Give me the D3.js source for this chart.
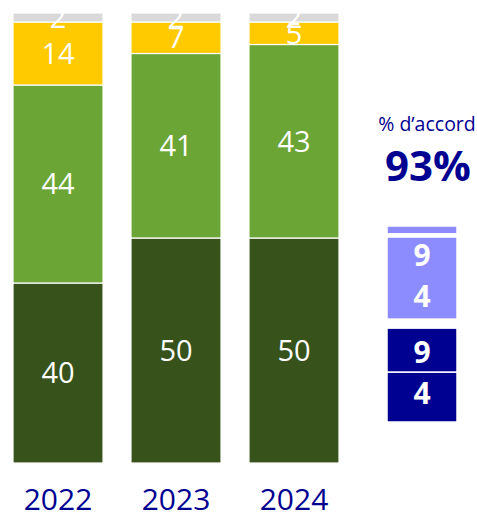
<!DOCTYPE html>
<html>
<head>
<meta charset="utf-8">
<script src="https://cdn.jsdelivr.net/npm/d3@7"></script>
<style>
  body { margin: 0; background: #fff; }
  text { font-family: "Open Sans", sans-serif; }
</style>
</head>
<body>
<div id="chart"></div>
<script>
// Data
const years = ["2022", "2023", "2024"];
const seriesNames = ["Tout à fait", "Plutôt", "Plutôt pas", "Pas du tout"];
const toutAFait = [40, 50, 50];
const plutot = [44, 41, 43];
const plutotPas = [14, 7, 5];
const pasDuTout = [2, 2, 2];
const seriesColors = ["#37521a", "#6aa535", "#ffca00", "#d9d9d9"];

// side summary block
const accordLabel = "% d\u2019accord";
const accordValue = "93%";
const sideValues = [25.5, 22.5, 4.5, 42, 1.5, 4];
const sideColors = ["#000091", "#000091", "#ffffff", "#8c8cff", "#ffffff", "#8c8cff"];
const sideLabels = ["94", "", "", "94", "", ""];
const sideLabelSpan = [2, 0, 0, 1, 0, 0];

const width = 477;
const height = 512;

const svg = d3.select("#chart")
    .append("svg")
    .attr("width", width)
    .attr("height", height);

const x = d3.scaleBand()
    .domain(years)
    .range([13, 339])
    .paddingInner(0.237)
    .paddingOuter(0);

const y = d3.scaleLinear()
    .domain([0, 100])
    .range([463, 13]);

const rows = years.map((yr, i) => ({
    year: yr,
    s0: toutAFait[i],
    s1: plutot[i],
    s2: plutotPas[i],
    s3: pasDuTout[i]
}));

const stack = d3.stack().keys(["s0", "s1", "s2", "s3"]);
const layers = stack(rows);

// clip so labels sticking above the bars get cut
svg.append("clipPath")
    .attr("id", "plot-clip")
    .append("rect")
    .attr("x", 0)
    .attr("y", y(100))
    .attr("width", 350)
    .attr("height", y(0) - y(100));

const bars = svg.append("g").attr("clip-path", "url(#plot-clip)");

layers.forEach((layer, k) => {
    const g = bars.append("g");
    g.selectAll("rect")
        .data(layer)
        .enter()
        .append("rect")
        .attr("x", d => x(d.data.year))
        .attr("y", d => y(d[1]))
        .attr("width", x.bandwidth())
        .attr("height", d => y(d[0]) - y(d[1]))
        .attr("fill", seriesColors[k])
        .attr("stroke", "#fff")
        .attr("stroke-width", 1.2);
});

layers.forEach((layer, k) => {
    bars.append("g").selectAll("text")
        .data(layer)
        .enter()
        .append("text")
        .attr("x", d => x(d.data.year) + x.bandwidth() / 2)
        .attr("y", d => (y(d[0]) + y(d[1])) / 2)
        .attr("dy", "0.36em")
        .attr("text-anchor", "middle")
        .attr("font-size", "29px")
        .attr("fill", "#fff")
        .text(d => d[1] - d[0]);
});

// year labels
svg.append("g").selectAll("text")
    .data(years)
    .enter()
    .append("text")
    .attr("x", d => x(d) + x.bandwidth() / 2)
    .attr("y", 510)
    .attr("text-anchor", "middle")
    .attr("font-size", "30px")
    .attr("fill", "#000091")
    .text(d => d);

// right side summary
const cx = 427;
svg.append("text")
    .attr("x", cx)
    .attr("y", 131)
    .attr("text-anchor", "middle")
    .attr("font-size", "19.5px")
    .attr("fill", "#000091")
    .text(accordLabel);

svg.append("text")
    .attr("x", cx + 1)
    .attr("y", 181)
    .attr("text-anchor", "middle")
    .attr("font-size", "42px")
    .attr("font-weight", "bold")
    .attr("fill", "#000091")
    .text(accordValue);

const sideTotal = d3.sum(sideValues);
const ys = d3.scaleLinear()
    .domain([0, sideTotal])
    .range([422, 226]);

let acc = 0;
const sideSegs = sideValues.map((v, i) => {
    const seg = { y0: acc, y1: acc + v, color: sideColors[i] };
    acc += v;
    return seg;
});

const side = svg.append("g");
side.selectAll("rect")
    .data(sideSegs)
    .enter()
    .append("rect")
    .attr("x", 387)
    .attr("y", d => ys(d.y1))
    .attr("width", 70)
    .attr("height", d => ys(d.y0) - ys(d.y1))
    .attr("fill", d => d.color)
    .attr("stroke", "#fff")
    .attr("stroke-width", 1.5);

// labels span one or more segments and wrap one digit per line
const sideText = sideLabels
    .map((lab, i) => ({
        label: lab,
        y0: sideSegs[i].y0,
        y1: sideSegs[i + Math.max(sideLabelSpan[i], 1) - 1].y1
    }))
    .filter(d => d.label);

side.selectAll("text")
    .data(sideText)
    .enter()
    .append("text")
    .attr("x", 422)
    .attr("y", d => (ys(d.y0) + ys(d.y1)) / 2)
    .attr("text-anchor", "middle")
    .attr("font-size", "30px")
    .attr("font-weight", "bold")
    .attr("fill", "#fff")
    .each(function(d) {
        const chars = d.label.split("");
        const lh = 41;
        const start = -(chars.length - 1) * lh / 2;
        d3.select(this).selectAll("tspan")
            .data(chars)
            .enter()
            .append("tspan")
            .attr("x", 422)
            .attr("dy", (c, j) => j === 0 ? start + 9 : lh)
            .text(c => c);
    });
</script>
</body>
</html>
